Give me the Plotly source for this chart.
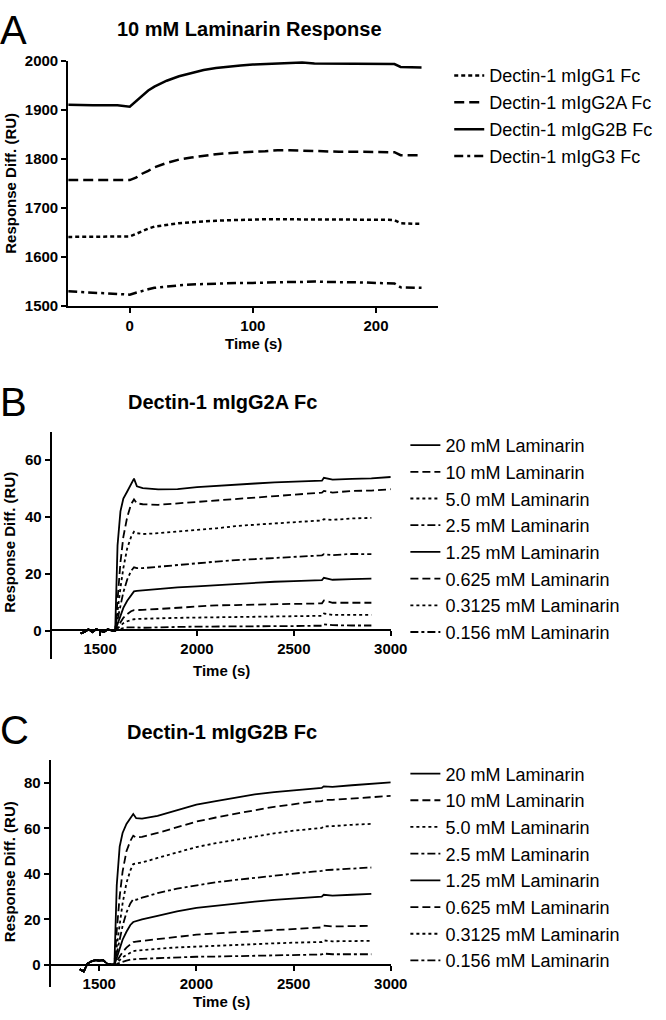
import plotly.graph_objects as go

# ---------------- Panel A data ----------------
time_a = [-50, -40, -30, -20, -10, 0, 5, 10, 15, 20, 30, 40, 50, 60, 70, 80, 90, 100,
          110, 120, 130, 140, 150, 160, 170, 180, 190, 200, 210, 215, 220, 230, 237]
a_names = ["Dectin-1 mIgG1 Fc", "Dectin-1 mIgG2A Fc", "Dectin-1 mIgG2B Fc", "Dectin-1 mIgG3 Fc"]
a_igg1 = [1641, 1641, 1641, 1641, 1641, 1642, 1647, 1653, 1658, 1662, 1666, 1669, 1671, 1673, 1674, 1675, 1676, 1677,
          1677, 1677, 1677, 1677, 1677, 1677, 1676, 1676, 1676, 1676, 1676, 1675, 1669, 1668, 1668]
a_igg2a = [1757, 1757, 1757, 1757, 1757, 1757, 1762, 1770, 1776, 1783, 1792, 1799, 1803, 1807, 1810, 1812, 1814, 1815,
           1816, 1818, 1818, 1817, 1816, 1815, 1815, 1815, 1815, 1815, 1815, 1814, 1808, 1808, 1808]
a_igg2b = [1911, 1910, 1910, 1910, 1910, 1907, 1918, 1930, 1940, 1948, 1960, 1969, 1976, 1982, 1986, 1989, 1991, 1993,
           1994, 1996, 1996, 1997, 1995, 1995, 1995, 1995, 1995, 1994, 1994, 1994, 1988, 1987, 1987]
a_igg3 = [1530, 1528, 1527, 1526, 1525, 1523, 1527, 1531, 1534, 1537, 1540, 1542, 1544, 1545, 1546, 1546, 1547, 1547,
          1548, 1548, 1549, 1549, 1550, 1549, 1549, 1548, 1548, 1547, 1547, 1546, 1538, 1537, 1537]

# ---------------- Panels B / C data ----------------
conc_labels = ["20 mM Laminarin", "10 mM Laminarin", "5.0 mM Laminarin", "2.5 mM Laminarin",
               "1.25 mM Laminarin", "0.625 mM Laminarin", "0.3125 mM Laminarin", "0.156 mM Laminarin"]
time_bc = [1400, 1420, 1440, 1460, 1480, 1500, 1520, 1540, 1560, 1578,
           1590, 1605, 1620, 1640, 1660, 1675, 1690, 1720, 1800, 1900, 2000, 2100, 2200, 2300,
           2400, 2500, 2600, 2645, 2655, 2700, 2800, 2900, 3000]
baseline_b = [-1.0, -0.5, 0.5, -0.5, 0.5, 0.0, -0.5, 0.5, 0.0, 0.0]
baseline_c = [-2.0, -3.0, 0.5, 1.5, 2.0, 1.8, 2.0, 0.5, 0.0, 0.0]

b_20 = [30, 42, 46.5, 49, 51.5, 53.5, 50.8, 50.2, 49.7, 49.8, 50.5, 51, 51.3, 51.8, 52.2, 52.5, 52.8, 52.8, 53.8, 53.2, 53.4, 53.6, 54.1]
b_10 = [12, 24, 33, 40, 44.5, 46.2, 44.8, 44.5, 44.3, 44.8, 45.5, 46, 46.5, 47, 47.5, 48, 48.4, 48.6, 49.2, 48.6, 49.2, 49.3, 49.8]
b_5 = [7, 15, 22, 29, 33, 34.8, 34.3, 34, 34.3, 35, 35.5, 36, 36.8, 37.3, 37.8, 38.3, 38.7, 38.8, 39.2, 39, 39.5, 39.7, None]
b_2p5 = [4, 9, 13.5, 18, 21, 22.3, 22, 22, 22.5, 23.2, 23.8, 24.3, 24.8, 25.2, 25.6, 26, 26.3, 26.5, 26.9, 26.6, 27, 26.9, None]
b_1p25 = [2.5, 5.5, 8, 10.5, 12.5, 13.8, 14, 14.2, 14.7, 15.2, 15.6, 16, 16.5, 16.8, 17.2, 17.4, 17.6, 17.8, 18.6, 17.9, 18.1, 18.3, None]
b_0p625 = [1.2, 3, 4.5, 5.8, 6.8, 7.2, 7.2, 7.3, 7.6, 8, 8.6, 8.9, 9, 9.2, 9.3, 9.4, 9.5, 9.6, 10.6, 9.8, 9.8, 9.8, None]
b_0p3125 = [0.8, 1.8, 2.6, 3.3, 3.8, 4, 4.1, 4.2, 4.3, 4.5, 4.6, 4.7, 4.8, 4.9, 5, 5.1, 5.2, 5.2, 6, 5.5, 5.5, 5.5, None]
b_0p156 = [0.3, 0.6, 0.9, 1.1, 1.2, 1.2, 1.1, 1, 1.2, 1.3, 1.4, 1.4, 1.5, 1.5, 1.6, 1.6, 1.7, 1.7, 2.2, 1.9, 1.8, 1.8, None]

c_20 = [35, 52, 58, 62, 64.5, 66.3, 64.5, 64.3, 65.5, 68, 70.5, 72, 73.5, 75, 76, 76.8, 77.5, 77.8, 78.5, 78.3, 79, 79.6, 80.3]
c_10 = [15, 30, 41, 50, 54.5, 56.8, 56, 56.3, 58, 60.5, 63, 64.8, 66.5, 68, 69.5, 70.8, 71.8, 72, 72.6, 72.6, 73.2, 73.8, 74.3]
c_5 = [8, 18, 27, 36, 41.5, 44.3, 44.5, 45, 47, 49.5, 51.8, 53.5, 55, 56.5, 57.8, 59, 60, 60.2, 60.9, 61, 61.6, 62, None]
c_2p5 = [5, 11, 17, 23, 27, 28.8, 28.6, 29.5, 31.5, 33.5, 35, 36.3, 37.3, 38.3, 39.3, 40.2, 41, 41.3, 41.6, 41.8, 42.3, 42.8, None]
c_1p25 = [3, 7, 11, 14.5, 17.5, 18.8, 19.2, 20, 21.5, 23.5, 25, 26, 27, 27.8, 28.5, 29.2, 29.8, 30, 30.8, 30.4, 30.8, 31.2, None]
c_0p625 = [1.5, 3.5, 5.5, 7.5, 9, 10, 10.2, 10.5, 11.3, 12.5, 13.2, 13.8, 14.3, 14.8, 15.3, 15.8, 16.2, 16.4, 17.2, 16.8, 17, 17.1, None]
c_0p3125 = [0.8, 2, 3.2, 4.3, 5.3, 6, 6.2, 6.5, 7, 7.6, 8, 8.5, 8.8, 9.1, 9.4, 9.7, 9.9, 10, 10.7, 10.3, 10.4, 10.5, None]
c_0p156 = [0.3, 0.8, 1.3, 1.8, 2.2, 2.5, 2.5, 2.6, 2.9, 3.2, 3.5, 3.6, 3.8, 4, 4.2, 4.3, 4.4, 4.5, 4.9, 4.6, 4.6, 4.6, None]

# ---------------- styling ----------------
W, H = 666, 1020
FONT = "Liberation Sans, Arial, Helvetica, sans-serif"
dash_a = ["4px,3px", "10px,5px", "solid", "9px,4px,3px,4px"]
dash_bc = ["solid", "8px,4px", "3px,3px", "8px,3px,3px,3px"] * 2


def px_x(p):
    return p / W


def px_y(p):
    return 1 - p / H


fig = go.Figure()

# Panel A
for name, vals, dsh in zip(a_names, [a_igg1, a_igg2a, a_igg2b, a_igg3], dash_a):
    fig.add_trace(go.Scatter(x=time_a, y=vals, mode="lines", name=name,
                             line=dict(color="black", width=2.5, dash=dsh),
                             xaxis="x", yaxis="y", legend="legend", legendgroup="a" + name))

b_series = [b_20, b_10, b_5, b_2p5, b_1p25, b_0p625, b_0p3125, b_0p156]
c_series = [c_20, c_10, c_5, c_2p5, c_1p25, c_0p625, c_0p3125, c_0p156]
for lab, vals, dsh in zip(conc_labels, b_series, dash_bc):
    fig.add_trace(go.Scatter(x=time_bc, y=baseline_b + vals, mode="lines", name=lab,
                             line=dict(color="black", width=1.8, dash=dsh),
                             xaxis="x2", yaxis="y2", legend="legend2", legendgroup="b" + lab))
for lab, vals, dsh in zip(conc_labels, c_series, dash_bc):
    fig.add_trace(go.Scatter(x=time_bc, y=baseline_c + vals, mode="lines", name=lab,
                             line=dict(color="black", width=1.8, dash=dsh),
                             xaxis="x3", yaxis="y3", legend="legend3", legendgroup="c" + lab))

tickfont = dict(family=FONT, size=15, color="black", weight="bold")
axis_common = dict(showline=True, linecolor="black", linewidth=2, ticks="outside",
                   ticklen=5, tickwidth=2, tickcolor="black", showgrid=False,
                   zeroline=False, tickfont=tickfont, fixedrange=True)

# Pixel geometry
A_x0, A_x1, A_ytop, A_ybot = 70, 449, 53, 302
B_x0, B_x1, B_ytop, B_ybot, B_zero = 53, 401, 430, 661, 632
C_x0, C_x1, C_ytop, C_ybot, C_zero = 52, 401, 764, 995, 972

fig.update_layout(
    width=W, height=H, margin=dict(l=0, r=0, t=0, b=0),
    paper_bgcolor="white", plot_bgcolor="white",
    font=dict(family=FONT, color="black"),
    xaxis=dict(domain=[px_x(A_x0), px_x(A_x1)], range=[-50, 250], tickvals=[0, 100, 200],
               anchor="y", **axis_common),
    yaxis=dict(domain=[px_y(A_ybot), px_y(A_ytop)], range=[1500, 2000],
               tickvals=[1500, 1600, 1700, 1800, 1900, 2000], anchor="x", **axis_common),
    xaxis2=dict(domain=[px_x(B_x0), px_x(B_x1)], range=[1250, 3000], tickvals=[1500, 2000, 2500, 3000],
                anchor="free", position=px_y(B_zero), **axis_common),
    yaxis2=dict(domain=[px_y(B_ybot), px_y(B_ytop)], range=[-10, 70], tickvals=[0, 20, 40, 60],
                anchor="x2", **axis_common),
    xaxis3=dict(domain=[px_x(C_x0), px_x(C_x1)], range=[1250, 3000], tickvals=[1500, 2000, 2500, 3000],
                anchor="free", position=px_y(C_zero), **axis_common),
    yaxis3=dict(domain=[px_y(C_ybot), px_y(C_ytop)], range=[-10, 90], tickvals=[0, 20, 40, 60, 80],
                anchor="x3", **axis_common),
    legend=dict(x=px_x(461), y=px_y(49), xanchor="left", yanchor="top",
                font=dict(family=FONT, size=18, color="black"), tracegroupgap=0.5,
                bgcolor="rgba(0,0,0,0)", itemclick=False),
    legend2=dict(x=px_x(416), y=px_y(425), xanchor="left", yanchor="top",
                 font=dict(family=FONT, size=18, color="black"), tracegroupgap=0.3,
                 bgcolor="rgba(0,0,0,0)", itemclick=False),
    legend3=dict(x=px_x(416), y=px_y(759), xanchor="left", yanchor="top",
                 font=dict(family=FONT, size=18, color="black"), tracegroupgap=0.3,
                 bgcolor="rgba(0,0,0,0)", itemclick=False),
    showlegend=True,
)

annotations = []
# panel letters
for letter, ypx in [("A", 21), ("B", 400), ("C", 733)]:
    annotations.append(dict(text=letter, x=px_x(-2), y=px_y(ypx), xref="paper", yref="paper",
                            xanchor="left", yanchor="middle", showarrow=False,
                            font=dict(family=FONT, size=40, color="black")))
# titles
for txt, xpx, ypx in [("10 mM Laminarin Response", 256, 20), ("Dectin-1 mIgG2A Fc", 228, 400),
                      ("Dectin-1 mIgG2B Fc", 228, 735)]:
    annotations.append(dict(text="<b>" + txt + "</b>", x=px_x(xpx), y=px_y(ypx), xref="paper", yref="paper",
                            xanchor="center", yanchor="middle", showarrow=False,
                            font=dict(family=FONT, size=20, color="black")))
# axis titles
for xpx, ypx in [(10, 177), (10, 542), (10, 877)]:
    annotations.append(dict(text="<b>Response Diff. (RU)</b>", x=px_x(xpx), y=px_y(ypx), xref="paper",
                            yref="paper", xanchor="center", yanchor="middle", textangle=-90, showarrow=False,
                            font=dict(family=FONT, size=15, color="black")))
for xpx, ypx in [(260, 340), (227, 673), (227, 1009)]:
    annotations.append(dict(text="<b>Time (s)</b>", x=px_x(xpx), y=px_y(ypx), xref="paper",
                            yref="paper", xanchor="center", yanchor="middle", showarrow=False,
                            font=dict(family=FONT, size=15, color="black")))
fig.update_layout(annotations=annotations)

fig.write_html("out.html", config={"displayModeBar": False},
               post_script="document.body.style.margin='0';document.body.style.overflow='hidden';")
